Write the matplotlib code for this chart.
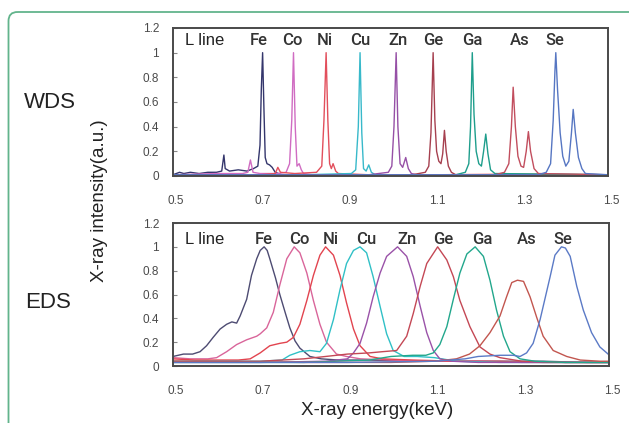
import matplotlib
matplotlib.use("Agg")
import matplotlib.pyplot as plt
from matplotlib.patches import FancyBboxPatch
from matplotlib.transforms import ScaledTranslation

plt.rcParams['font.family'] = ['Liberation Sans', 'DejaVu Sans']

elements = ["Fe", "Co", "Ni", "Cu", "Zn", "Ge", "Ga", "As", "Se"]

# ---- WDS spectra (energy keV, normalised intensity) ----
wds_fe_e = [0.500, 0.515, 0.525, 0.540, 0.560, 0.580, 0.600, 0.612, 0.617, 0.620, 0.630, 0.650, 0.670,
            0.685, 0.695, 0.700, 0.703, 0.706, 0.709, 0.712, 0.716, 0.722, 0.728, 0.735, 0.750, 0.800,
            0.900, 1.000, 1.100, 1.200, 1.300, 1.400, 1.500]
wds_fe_i = [0.01, 0.03, 0.02, 0.03, 0.02, 0.03, 0.03, 0.04, 0.17, 0.06, 0.04, 0.05, 0.04,
            0.06, 0.08, 0.25, 0.70, 1.00, 0.55, 0.15, 0.10, 0.09, 0.07, 0.03, 0.01, 0.01,
            0.01, 0.01, 0.01, 0.01, 0.01, 0.01, 0.01]
wds_co_e = [0.500, 0.600, 0.660, 0.672, 0.678, 0.684, 0.700, 0.740, 0.760, 0.768, 0.773, 0.777, 0.781,
            0.785, 0.790, 0.795, 0.800, 0.820, 0.900, 1.000, 1.200, 1.500]
wds_co_i = [0.01, 0.02, 0.02, 0.03, 0.13, 0.03, 0.02, 0.02, 0.03, 0.10, 0.45, 1.00, 0.40,
            0.08, 0.10, 0.05, 0.02, 0.01, 0.01, 0.01, 0.01, 0.01]
wds_ni_e = [0.500, 0.700, 0.735, 0.741, 0.747, 0.780, 0.830, 0.842, 0.847, 0.852, 0.856, 0.860, 0.864,
            0.868, 0.874, 0.880, 0.950, 1.100, 1.300, 1.500]
wds_ni_i = [0.01, 0.01, 0.02, 0.07, 0.03, 0.02, 0.03, 0.08, 0.45, 1.00, 0.45, 0.10, 0.06,
            0.10, 0.04, 0.02, 0.01, 0.01, 0.015, 0.01]
wds_cu_e = [0.500, 0.800, 0.910, 0.920, 0.926, 0.930, 0.934, 0.938, 0.944, 0.950, 0.956, 0.965, 1.000, 1.500]
wds_cu_i = [0.01, 0.01, 0.02, 0.05, 0.40, 1.00, 0.35, 0.06, 0.04, 0.09, 0.03, 0.01, 0.01, 0.01]
wds_zn_e = [0.500, 0.950, 0.995, 1.003, 1.008, 1.013, 1.017, 1.022, 1.028, 1.035, 1.041, 1.048, 1.060, 1.500]
wds_zn_i = [0.01, 0.01, 0.03, 0.08, 0.40, 1.00, 0.40, 0.10, 0.07, 0.15, 0.06, 0.02, 0.01, 0.01]
wds_ge_e = [0.500, 1.050, 1.080, 1.088, 1.093, 1.098, 1.102, 1.106, 1.111, 1.116, 1.120, 1.124, 1.128,
            1.133, 1.140, 1.150, 1.500]
wds_ge_i = [0.01, 0.01, 0.03, 0.08, 0.35, 1.00, 0.45, 0.20, 0.12, 0.10, 0.18, 0.37, 0.20,
            0.08, 0.03, 0.01, 0.01]
wds_ga_e = [0.500, 1.150, 1.172, 1.180, 1.184, 1.188, 1.192, 1.197, 1.203, 1.209, 1.214, 1.219, 1.224,
            1.230, 1.240, 1.500]
wds_ga_i = [0.01, 0.01, 0.03, 0.10, 0.40, 1.00, 0.50, 0.20, 0.10, 0.08, 0.20, 0.34, 0.18,
            0.05, 0.02, 0.01]
wds_as_e = [0.500, 1.240, 1.262, 1.272, 1.278, 1.282, 1.287, 1.293, 1.300, 1.306, 1.312, 1.317, 1.322,
            1.330, 1.340, 1.500]
wds_as_i = [0.01, 0.01, 0.03, 0.10, 0.40, 0.72, 0.40, 0.16, 0.08, 0.07, 0.20, 0.36, 0.20,
            0.06, 0.02, 0.01]
wds_se_e = [0.500, 1.340, 1.358, 1.368, 1.374, 1.378, 1.380, 1.384, 1.390, 1.396, 1.403, 1.410, 1.416,
            1.420, 1.425, 1.432, 1.440, 1.448, 1.500]
wds_se_i = [0.01, 0.01, 0.03, 0.10, 0.45, 0.85, 1.00, 0.70, 0.35, 0.16, 0.08, 0.12, 0.35,
            0.54, 0.35, 0.15, 0.06, 0.02, 0.01]

# ---- EDS spectra (energy keV, normalised intensity) ----
eds_fe_e = [0.500, 0.524, 0.545, 0.562, 0.577, 0.592, 0.608, 0.623, 0.635, 0.646, 0.654, 0.669, 0.680,
            0.692, 0.700, 0.709, 0.716, 0.722, 0.735, 0.745, 0.758, 0.768, 0.780, 0.791, 0.814, 0.840,
            0.880, 0.950, 1.050, 1.150, 1.250, 1.350, 1.450, 1.500]
eds_fe_i = [0.08, 0.10, 0.10, 0.12, 0.17, 0.24, 0.31, 0.35, 0.37, 0.36, 0.42, 0.56, 0.76,
            0.90, 0.97, 1.00, 0.97, 0.90, 0.74, 0.60, 0.44, 0.32, 0.21, 0.15, 0.08, 0.06,
            0.05, 0.05, 0.04, 0.04, 0.04, 0.04, 0.03, 0.03]
eds_co_e = [0.500, 0.540, 0.580, 0.600, 0.623, 0.646, 0.669, 0.692, 0.700, 0.715, 0.730, 0.745, 0.761,
            0.778, 0.791, 0.807, 0.822, 0.837, 0.852, 0.875, 0.898, 0.930, 1.000, 1.100, 1.200, 1.300,
            1.400, 1.500]
eds_co_i = [0.07, 0.06, 0.06, 0.07, 0.12, 0.18, 0.22, 0.25, 0.27, 0.32, 0.45, 0.68, 0.90,
            1.00, 0.95, 0.78, 0.55, 0.35, 0.20, 0.10, 0.08, 0.06, 0.05, 0.04, 0.04, 0.03,
            0.03, 0.03]
eds_ni_e = [0.500, 0.550, 0.600, 0.650, 0.677, 0.700, 0.722, 0.745, 0.761, 0.776, 0.791, 0.807, 0.822,
            0.837, 0.850, 0.868, 0.883, 0.898, 0.914, 0.929, 0.952, 0.980, 1.050, 1.150, 1.250, 1.350,
            1.450, 1.500]
eds_ni_i = [0.06, 0.05, 0.05, 0.05, 0.06, 0.11, 0.17, 0.19, 0.20, 0.24, 0.35, 0.55, 0.76,
            0.93, 1.00, 0.93, 0.76, 0.53, 0.31, 0.17, 0.08, 0.06, 0.05, 0.04, 0.04, 0.03,
            0.03, 0.03]
eds_cu_e = [0.500, 0.600, 0.700, 0.750, 0.768, 0.791, 0.814, 0.837, 0.852, 0.868, 0.883, 0.898, 0.914,
            0.929, 0.944, 0.959, 0.975, 0.990, 1.005, 1.030, 1.060, 1.100, 1.150, 1.250, 1.350, 1.500]
eds_cu_i = [0.04, 0.04, 0.04, 0.05, 0.09, 0.12, 0.13, 0.12, 0.19, 0.39, 0.64, 0.86, 0.97,
            1.00, 0.95, 0.75, 0.50, 0.27, 0.13, 0.08, 0.08, 0.07, 0.04, 0.03, 0.03, 0.03]
eds_zn_e = [0.500, 0.700, 0.850, 0.900, 0.914, 0.929, 0.944, 0.959, 0.975, 0.990, 1.015, 1.036, 1.051,
            1.067, 1.082, 1.097, 1.112, 1.140, 1.200, 1.300, 1.400, 1.500]
eds_zn_i = [0.03, 0.03, 0.04, 0.06, 0.11, 0.19, 0.36, 0.58, 0.78, 0.92, 1.00, 0.92, 0.75,
            0.50, 0.28, 0.13, 0.06, 0.04, 0.03, 0.03, 0.03, 0.03]
eds_ge_e = [0.500, 0.700, 0.800, 0.850, 0.900, 0.950, 0.980, 1.013, 1.036, 1.051, 1.067, 1.082, 1.107,
            1.128, 1.143, 1.158, 1.181, 1.204, 1.227, 1.250, 1.300, 1.400, 1.500]
eds_ge_i = [0.04, 0.04, 0.06, 0.08, 0.10, 0.11, 0.12, 0.13, 0.25, 0.44, 0.67, 0.86, 1.00,
            0.89, 0.75, 0.55, 0.33, 0.16, 0.10, 0.07, 0.04, 0.03, 0.03]
eds_ga_e = [0.500, 0.800, 0.950, 1.000, 1.050, 1.080, 1.097, 1.112, 1.128, 1.143, 1.158, 1.174, 1.193,
            1.212, 1.227, 1.242, 1.258, 1.273, 1.296, 1.330, 1.400, 1.500]
eds_ga_i = [0.03, 0.03, 0.05, 0.08, 0.09, 0.09, 0.11, 0.18, 0.33, 0.56, 0.78, 0.94, 1.00,
            0.92, 0.72, 0.47, 0.25, 0.12, 0.06, 0.04, 0.03, 0.03]
eds_as_e = [0.500, 0.800, 1.000, 1.100, 1.150, 1.180, 1.204, 1.227, 1.250, 1.265, 1.277, 1.290, 1.304,
            1.319, 1.334, 1.349, 1.372, 1.403, 1.434, 1.480, 1.500]
eds_as_i = [0.04, 0.03, 0.03, 0.04, 0.06, 0.10, 0.17, 0.28, 0.42, 0.58, 0.70, 0.72, 0.71,
            0.58, 0.41, 0.25, 0.13, 0.08, 0.05, 0.04, 0.04]
eds_se_e = [0.500, 0.900, 1.100, 1.170, 1.200, 1.250, 1.280, 1.296, 1.311, 1.326, 1.342, 1.365, 1.376,
            1.391, 1.400, 1.411, 1.426, 1.441, 1.460, 1.479, 1.498, 1.500]
eds_se_i = [0.03, 0.03, 0.04, 0.06, 0.08, 0.09, 0.09, 0.08, 0.11, 0.19, 0.39, 0.75, 0.93,
            1.00, 0.99, 0.92, 0.67, 0.47, 0.28, 0.16, 0.10, 0.09]

wds_colors = ["#34366c", "#d06cc2", "#e24f5c", "#38b9ca", "#9650a6", "#a6404f", "#1e9e8c", "#c24e5e", "#5676c2"]
eds_colors = ["#4d4b72", "#d9659a", "#e2444f", "#30c0c6", "#9a52a8", "#c44855", "#22a78c", "#c2564f", "#5b7ac6"]

wds_curves = [(wds_fe_e, wds_fe_i), (wds_co_e, wds_co_i), (wds_ni_e, wds_ni_i), (wds_cu_e, wds_cu_i),
              (wds_zn_e, wds_zn_i), (wds_ge_e, wds_ge_i), (wds_ga_e, wds_ga_i), (wds_as_e, wds_as_i),
              (wds_se_e, wds_se_i)]
eds_curves = [(eds_fe_e, eds_fe_i), (eds_co_e, eds_co_i), (eds_ni_e, eds_ni_i), (eds_cu_e, eds_cu_i),
              (eds_zn_e, eds_zn_i), (eds_ge_e, eds_ge_i), (eds_ga_e, eds_ga_i), (eds_as_e, eds_as_i),
              (eds_se_e, eds_se_i)]

# element label positions (keV) above each panel
wds_label_x = [0.697, 0.774, 0.849, 0.931, 1.017, 1.098, 1.187, 1.298, 1.378]
eds_label_x = [0.709, 0.789, 0.862, 0.944, 1.036, 1.119, 1.210, 1.311, 1.394]

x_ticks = [0.5, 0.7, 0.9, 1.1, 1.3, 1.5]
x_tick_labels = ["0.5", "0.7", "0.9", "1.1", "1.3", "1.5"]
y_ticks = [0, 0.2, 0.4, 0.6, 0.8, 1.0, 1.2]
y_tick_labels = ["0", "0.2", "0.4", "0.6", "0.8", "1", "1.2"]

W, H = 629, 423
fig = plt.figure(figsize=(W / 100, H / 100), dpi=100)

# frame around the whole figure
bg = fig.add_axes([0, 0, 1, 1])
bg.set_xlim(0, W)
bg.set_ylim(H, 0)
bg.axis("off")
bg.add_patch(FancyBboxPatch((8.5, 12), 660, 460, boxstyle="round,pad=0,rounding_size=9",
                            fill=False, edgecolor="#62b48c", linewidth=1.3, clip_on=True))


def style_axes(ax, label_y, label_x):
    ax.set_xlim(0.5, 1.5)
    ax.set_ylim(0, 1.2)
    ax.set_xticks(x_ticks)
    ax.set_xticklabels(x_tick_labels)
    ax.set_yticks(y_ticks)
    ax.set_yticklabels(y_tick_labels)
    ax.tick_params(axis="x", length=0, pad=14, labelsize=8.5, labelcolor="#4a4a4a")
    ax.tick_params(axis="y", direction="in", length=3, width=0.8, color="#888888",
                   pad=10, labelsize=8.5, labelcolor="#4a4a4a")
    for lbl in ax.get_xticklabels():
        lbl.set_transform(lbl.get_transform() + ScaledTranslation(3 / 100, 0, fig.dpi_scale_trans))
    for s in ax.spines.values():
        s.set_color("#4a4a4a")
        s.set_linewidth(1.4)
    ax.text(0.528, label_y, "L line", fontsize=12, color="#222222", va="center", ha="left")
    for name, xp in zip(elements, label_x):
        ax.text(xp, label_y, name, fontsize=12, fontweight="medium", color="#333333",
                va="center", ha="center", family=["Roboto", "Liberation Sans"])


ax1 = fig.add_axes([173 / W, 1 - 176 / H, 435 / W, 148 / H])
for (e, i), c in zip(wds_curves, wds_colors):
    ax1.plot(e, i, color=c, lw=1.0)
style_axes(ax1, 1.10, wds_label_x)

ax2 = fig.add_axes([173 / W, 1 - 366 / H, 436 / W, 143 / H])
for (e, i), c in zip(eds_curves, eds_colors):
    ax2.plot(e, i, color=c, lw=1.0)
style_axes(ax2, 1.065, eds_label_x)

fig.text(100 / W, 1 - 201 / H, "X-ray intensity(a.u.)", rotation=90, fontsize=13.5,
         color="#222222", ha="center", va="center")
fig.text(377 / W, 1 - 410 / H, "X-ray energy(keV)", fontsize=13.5, color="#222222",
         ha="center", va="center")
fig.text(50 / W, 1 - 102 / H, "WDS", fontsize=16, color="#222222", ha="center", va="center")
fig.text(48 / W, 1 - 302 / H, "EDS", fontsize=16, color="#222222", ha="center", va="center")

fig.savefig("out.png", dpi=100)
